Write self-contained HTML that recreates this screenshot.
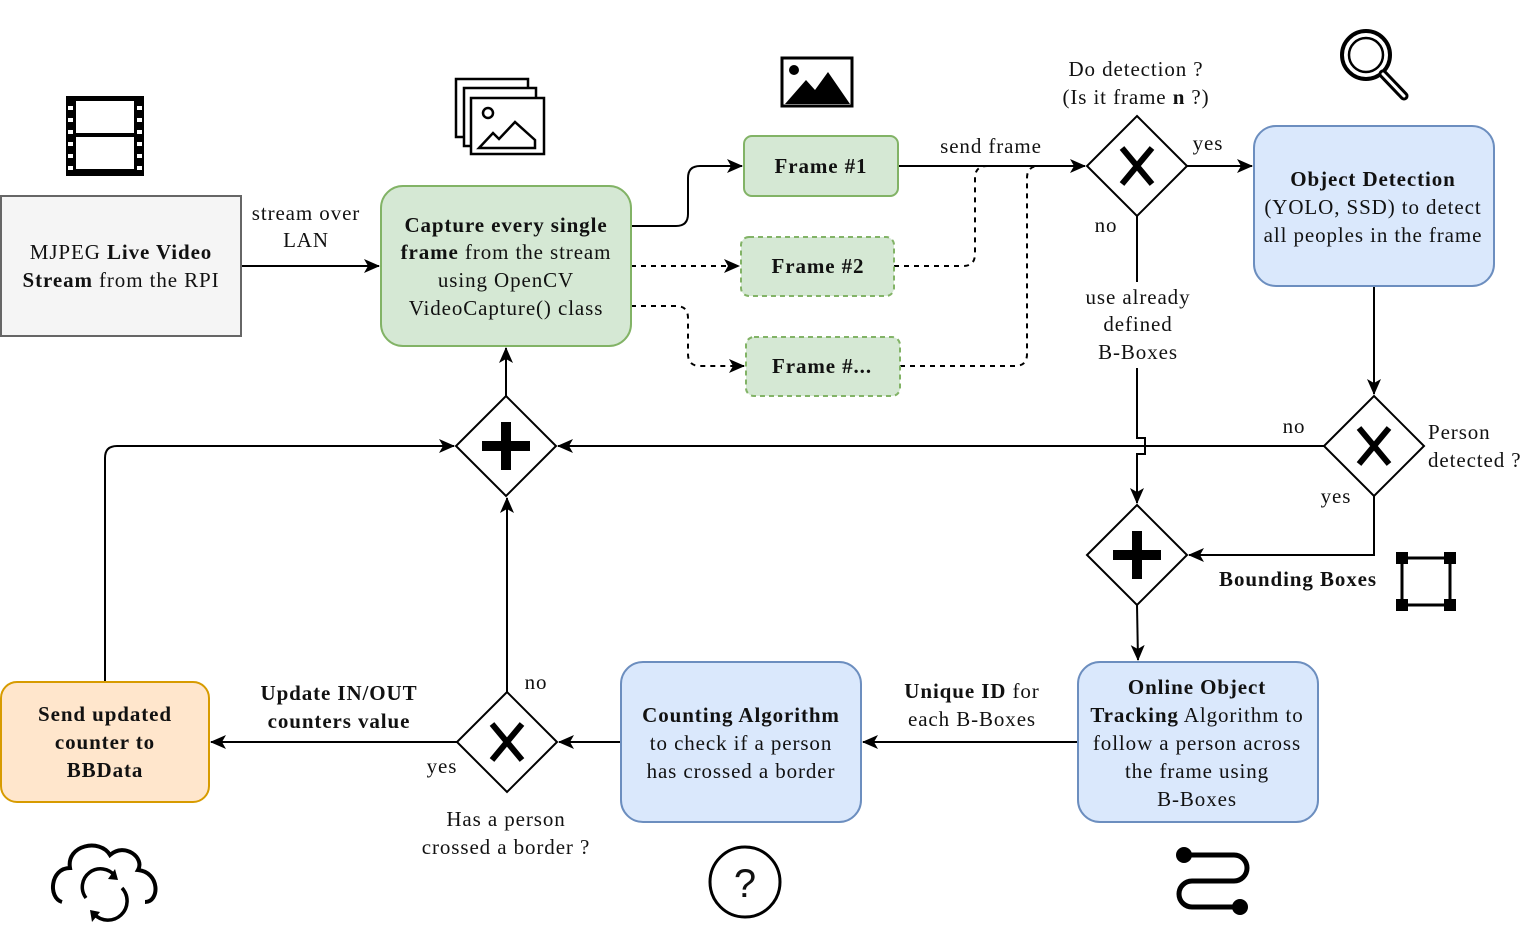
<!DOCTYPE html>
<html><head><meta charset="utf-8"><style>
html,body{margin:0;padding:0;background:#fff}
svg text{font-family:"Liberation Serif",serif;font-size:21px;letter-spacing:0.9px;fill:#111}
.b{font-weight:bold}
</style></head><body>
<svg width="1522" height="936" viewBox="0 0 1522 936" xmlns="http://www.w3.org/2000/svg">
<defs>
<marker id="ar" markerWidth="16" markerHeight="14" refX="15" refY="7" orient="auto" markerUnits="userSpaceOnUse"><path d="M0,0 L16,7 L0,14 L4,7 z" fill="#000"/></marker></defs>
<g fill="none" stroke="#000" stroke-width="2">
<path d="M241,266 H379" marker-end="url(#ar)"/>
<path d="M631,226 H676 Q688,226 688,214 V178 Q688,166 700,166 H742" marker-end="url(#ar)"/>
<path d="M631,266 H739" stroke-dasharray="5,5" marker-end="url(#ar)"/>
<path d="M631,306 H676 Q688,306 688,318 V354 Q688,366 700,366 H744" stroke-dasharray="5,5" marker-end="url(#ar)"/>
<path d="M898,166 H1085" marker-end="url(#ar)"/>
<path d="M894,266 H963 Q975,266 975,254 V178 Q975,166 987,166 H1085" stroke-dasharray="5,5"/>
<path d="M900,366 H1015 Q1027,366 1027,354 V178 Q1027,166 1039,166 H1085" stroke-dasharray="5,5"/>
<path d="M1187,166 H1252" marker-end="url(#ar)"/>
<path d="M1137,216 V438 H1145 V454 H1137 V503" marker-end="url(#ar)"/>
<path d="M1374,286 V394" marker-end="url(#ar)"/>
<path d="M1324,446 H558" marker-end="url(#ar)"/>
<path d="M1374,496 V555 H1189" marker-end="url(#ar)"/>
<path d="M1137,605 L1138,660" marker-end="url(#ar)"/>
<path d="M1078,742 H863" marker-end="url(#ar)"/>
<path d="M621,742 H559" marker-end="url(#ar)"/>
<path d="M507,692 V498" marker-end="url(#ar)"/>
<path d="M457,742 H211" marker-end="url(#ar)"/>
<path d="M105,682 V458 Q105,446 117,446 H454" marker-end="url(#ar)"/>
<path d="M506,396 V348" marker-end="url(#ar)"/>
</g>
<rect x="1084" y="282" width="110" height="86" fill="#fff"/>
<rect x="1090" y="210" width="34" height="26" fill="#fff"/>
<rect x="1278" y="412" width="34" height="24" fill="#fff"/>
<rect x="1316" y="484" width="40" height="24" fill="#fff"/>
<rect x="520" y="668" width="34" height="22" fill="#fff"/>
<rect x="426" y="756" width="36" height="22" fill="#fff"/>
<rect x="1" y="196" width="240" height="140" fill="#f5f5f5" stroke="#666" stroke-width="2"/>
<rect x="381" y="186" width="250" height="160" rx="22" fill="#d5e8d4" stroke="#82b366" stroke-width="2"/>
<rect x="744" y="136" width="154" height="60" rx="8" fill="#d5e8d4" stroke="#82b366" stroke-width="2"/>
<rect x="741" y="237" width="153" height="59" rx="8" fill="#d5e8d4" stroke="#82b366" stroke-width="2" stroke-dasharray="5,4"/>
<rect x="746" y="337" width="154" height="59" rx="8" fill="#d5e8d4" stroke="#82b366" stroke-width="2" stroke-dasharray="5,4"/>
<rect x="1254" y="126" width="240" height="160" rx="22" fill="#dae8fc" stroke="#6c8ebf" stroke-width="2"/>
<rect x="1078" y="662" width="240" height="160" rx="22" fill="#dae8fc" stroke="#6c8ebf" stroke-width="2"/>
<rect x="621" y="662" width="240" height="160" rx="22" fill="#dae8fc" stroke="#6c8ebf" stroke-width="2"/>
<rect x="1" y="682" width="208" height="120" rx="16" fill="#ffe6cc" stroke="#d79b00" stroke-width="2"/>
<g fill="#fff" stroke="#000" stroke-width="2">
<path d="M1137,116 L1187,166 L1137,216 L1087,166 Z"/>
<path d="M1374,396 L1424,446 L1374,496 L1324,446 Z"/>
<path d="M1137,505 L1187,555 L1137,605 L1087,555 Z"/>
<path d="M506,396 L556,446 L506,496 L456,446 Z"/>
<path d="M507,692 L557,742 L507,792 L457,742 Z"/>
</g>
<g stroke="#000" stroke-width="6">
<path d="M1122,148 L1152,184 M1152,148 L1122,184"/>
<path d="M1359,428 L1389,464 M1389,428 L1359,464"/>
<path d="M492,724 L522,760 M522,724 L492,760"/>
</g>
<g fill="#000"><rect x="1113" y="550" width="48" height="10"/><rect x="1132" y="531" width="10" height="48"/>
<rect x="482" y="441" width="48" height="10"/><rect x="501" y="422" width="10" height="48"/></g>
<g text-anchor="middle">
<text x="121" y="259">MJPEG <tspan class="b">Live Video</tspan></text>
<text x="121" y="287"><tspan class="b">Stream</tspan> from the RPI</text>
<text x="306" y="220">stream over</text><text x="306" y="247">LAN</text>
<text x="506" y="232" class="b">Capture every single</text>
<text x="506" y="259"><tspan class="b">frame</tspan> from the stream</text>
<text x="506" y="287">using OpenCV</text>
<text x="506" y="315">VideoCapture() class</text>
<text x="821" y="173" class="b">Frame #1</text>
<text x="818" y="273" class="b">Frame #2</text>
<text x="822" y="373" class="b">Frame #...</text>
<text x="991" y="153">send frame</text>
<text x="1136" y="76">Do detection ?</text>
<text x="1136" y="104">(Is it frame <tspan class="b">n</tspan> ?)</text>
<text x="1208" y="150">yes</text>
<text x="1106" y="232">no</text>
<text x="1138" y="304">use already</text><text x="1138" y="331">defined</text><text x="1138" y="359">B-Boxes</text>
<text x="1373" y="186" class="b">Object Detection</text>
<text x="1373" y="214">(YOLO, SSD) to detect</text>
<text x="1373" y="242">all peoples in the frame</text>
<text x="1294" y="433">no</text>
<text x="1336" y="503">yes</text>
<text x="1298" y="586" class="b">Bounding Boxes</text>
<text x="1197" y="694" class="b">Online Object</text>
<text x="1197" y="722"><tspan class="b">Tracking</tspan> Algorithm to</text>
<text x="1197" y="750">follow a person across</text>
<text x="1197" y="778">the  frame using</text>
<text x="1197" y="806">B-Boxes</text>
<text x="972" y="698"><tspan class="b">Unique ID</tspan> for</text>
<text x="972" y="726">each B-Boxes</text>
<text x="741" y="722" class="b">Counting Algorithm</text>
<text x="741" y="750">to check if a person</text>
<text x="741" y="778">has crossed a border</text>
<text x="536" y="689">no</text>
<text x="442" y="773">yes</text>
<text x="506" y="826">Has a person</text><text x="506" y="854">crossed a border ?</text>
<text x="339" y="700" class="b">Update IN/OUT</text>
<text x="339" y="728" class="b">counters value</text>
<text x="105" y="721" class="b">Send updated</text>
<text x="105" y="749" class="b">counter to</text>
<text x="105" y="777" class="b">BBData</text>
</g>
<text x="1428" y="439">Person</text><text x="1428" y="467">detected ?</text>
<g fill="#000"><rect x="66" y="96" width="78" height="80"/></g>
<g fill="#fff"><rect x="76" y="101" width="58" height="32"/><rect x="76" y="137" width="58" height="32"/>
<rect x="68" y="106" width="5" height="4"/><rect x="68" y="118" width="5" height="4"/><rect x="68" y="130" width="5" height="4"/><rect x="68" y="142" width="5" height="4"/><rect x="68" y="154" width="5" height="4"/><rect x="68" y="166" width="5" height="4"/>
<rect x="137" y="106" width="5" height="4"/><rect x="137" y="118" width="5" height="4"/><rect x="137" y="130" width="5" height="4"/><rect x="137" y="142" width="5" height="4"/><rect x="137" y="154" width="5" height="4"/><rect x="137" y="166" width="5" height="4"/></g>
<g fill="#fff" stroke="#000" stroke-width="2.5">
<rect x="456" y="79" width="72" height="58"/><rect x="464" y="88" width="72" height="58"/><rect x="471" y="98" width="73" height="56"/>
<circle cx="488" cy="113" r="5"/><path d="M479,148 L493,133 L499,139 L515,122 L535,140 V148 Z"/>
</g>
<rect x="782" y="58" width="70" height="48" fill="#fff" stroke="#000" stroke-width="3"/>
<circle cx="794" cy="70" r="5" fill="#000"/>
<path d="M785,104 L806,80 L815,90 L828,72 L850,104 Z" fill="#000"/>
<g fill="none" stroke="#000" stroke-width="4"><circle cx="1366" cy="55" r="24"/><circle cx="1366" cy="55" r="17" stroke-width="2.5"/></g>
<path d="M1383,74 L1404,96" stroke="#000" stroke-width="9" stroke-linecap="round"/>
<path d="M1383,74 L1404,96" stroke="#fff" stroke-width="3" stroke-linecap="round"/>
<g fill="#000"><rect x="1396" y="552" width="12" height="12"/><rect x="1444" y="552" width="12" height="12"/><rect x="1396" y="599" width="12" height="12"/><rect x="1444" y="599" width="12" height="12"/></g>
<rect x="1402" y="558" width="48" height="47" fill="none" stroke="#000" stroke-width="3"/>
<path d="M62,902 C48,898 50,868 70,868 C66,845 100,838 110,855 C125,842 145,858 138,870 C160,872 160,902 145,902" fill="none" stroke="#000" stroke-width="4"/>
<path d="M86,898 A16,16 0 0 1 115,876 M122,888 A16,16 0 0 1 94,914" fill="none" stroke="#000" stroke-width="3.5"/>
<path d="M115,869 L118,880 L108,879 Z M92,922 L90,910 L100,912 Z" fill="#000"/>
<circle cx="745" cy="882" r="35" fill="none" stroke="#000" stroke-width="3"/>
<text x="745" y="897" text-anchor="middle" style="font-family:'Liberation Sans',sans-serif;font-size:40px;letter-spacing:0">?</text>
<path d="M1184,855 H1234 A13,13 0 0 1 1234,881 H1192 A13,13 0 0 0 1192,907 H1240" fill="none" stroke="#000" stroke-width="5"/>
<circle cx="1184" cy="855" r="8" fill="#000"/><circle cx="1240" cy="907" r="8" fill="#000"/>
</svg>
</body></html>
